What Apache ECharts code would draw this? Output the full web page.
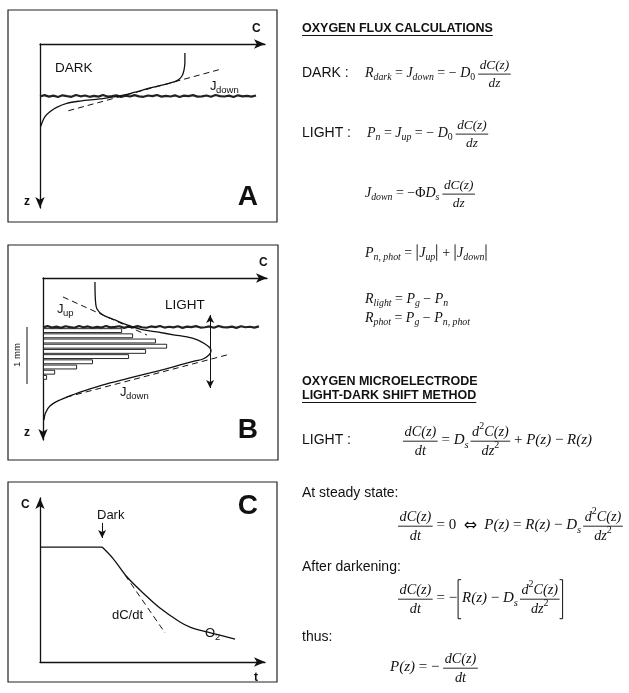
<!DOCTYPE html>
<html>
<head>
<meta charset="utf-8">
<script src="https://cdn.jsdelivr.net/npm/echarts@6/dist/echarts.min.js"></script>
<style>
  html, body { margin: 0; padding: 0; background: #fff; }
  #chart { width: 629px; height: 693px; }
</style>
</head>
<body>
<div id="chart"></div>
<script>
// ---- data (all panels use 0..100 units on both axes) ----
// panel A : dark profile, C across, z down
const darkProfile = [[64.4,5.5],[64.4,11.0],[64.0,15.9],[63.1,19.5],[61.3,22.0],[57.8,23.8],[48.9,26.8],[41.3,29.7],[34.2,32.0],[26.7,33.5],[17.8,34.8],[11.9,36.2],[7.4,38.6],[4.4,41.3],[2.2,44.3],[0.8,48.4],[0.3,50.4]];
const darkTangent = [[12.6,40.7],[80.8,15.2]];
const surfaceDepthA = 31.7;
const surfaceDepthB = 30.2;
// roughness of the sediment surface line, read by eye
const surfaceWiggle = [0.3,-0.5,0.4,-0.2,0.6,-0.4,0.1,0.5,-0.6,0.2,-0.3,0.5,-0.1,0.4,-0.6,0.3,0.0,-0.4,0.6,-0.2,0.3,-0.5,0.2,0.5,-0.3,0.1,-0.6,0.4,-0.1,0.3,-0.4,0.6,-0.2,0.1,-0.5,0.4,0.2,-0.3,0.5,-0.6,0.1,0.3,-0.2,0.6,-0.4,0.2,-0.1,0.4,-0.3];

// panel B : light profile
const lightProfile = [[23.2,2.5],[23.4,13.6],[24.1,19.1],[26.8,22.8],[32.1,25.9],[37.5,29.0],[43.3,31.5],[50.9,33.3],[58.9,35.2],[64.3,36.4],[69.2,38.3],[72.3,40.7],[74.6,43.2],[75.0,45.1],[74.1,47.5],[71.4,50.0],[67.9,51.2],[61.2,53.7],[54.5,56.2],[47.8,58.6],[38.8,61.7],[29.9,64.8],[21.0,68.5],[14.3,71.6],[7.6,75.3],[3.1,79.0],[1.1,83.3],[0.4,87.7]];
const upTangent = [[8.9,11.7],[46.4,35.2]];
const downTangent = [[82.1,47.5],[8.9,74.1]];
const photicArrow = [[74.6,22.8],[74.6,67.9]];
const layers = ['1','2','3','4','5','6','7','8','9','10'];
const photosynthesis = [35.3,40.2,50.4,55.4,46.0,38.4,22.3,15.2,5.4,1.8];

// panel C : light-dark shift, C up, t across
const steadyO2 = [[0,70.1],[27.6,70.1]];
const decayO2 = [[27.6,70.1],[32.4,63.2],[38.7,51.8],[45.8,42.1],[53.3,32.9],[62.2,24.4],[66.7,21.3],[74.2,18.3],[86.7,14.0]];
const initialSlope = [[37.8,53.0],[55.6,17.7]];
const darkArrow = [[27.6,84.8],[27.6,75.6]];

// ---- text helpers ----
const SERIF = '"Liberation Serif","DejaVu Serif",serif';
const SANS = '"Liberation Sans",Arial,sans-serif';
const INK = '#111';
const G = [];
const mc = document.createElement('canvas').getContext('2d');

function fnt(size, it, bold, fam) {
  return (it ? 'italic ' : '') + (bold ? 'bold ' : '') + size + 'px ' + fam;
}
function tw(s, size, it, bold, fam) {
  mc.font = fnt(size, it, bold, fam);
  return mc.measureText(s).width;
}
function put(x, y, s, size, it, bold, fam, align, extra) {
  G.push(Object.assign({
    type: 'text', x: x, y: y, silent: true, z: 10,
    style: { text: s, font: fnt(size, it, bold, fam), fill: INK, align: align || 'left', verticalAlign: 'middle' }
  }, extra || {}));
}
function seg(x1, y1, x2, y2, w) {
  G.push({ type: 'line', silent: true, z: 10, shape: { x1: x1, y1: y1, x2: x2, y2: y2 }, style: { stroke: INK, lineWidth: w || 1 } });
}
function poly(pts, w) {
  G.push({ type: 'polyline', silent: true, z: 10, shape: { points: pts }, style: { stroke: INK, lineWidth: w || 1, fill: null } });
}
function box(x, y, w, h) {
  G.push({ type: 'rect', silent: true, shape: { x: x, y: y, width: w, height: h }, style: { fill: 'none', stroke: '#222', lineWidth: 1.2 } });
}
function heading(x, y, s, underline) {
  put(x, y, s, 12.5, false, true, SANS);
  if (underline) seg(x, y + 6.5, x + tw(s, 12.5, false, true, SANS), y + 6.5, 1.2);
}

// small layout engine for the formulas
function math(parts, x, y, fs, draw) {
  let cx = x;
  parts.forEach(function (p) {
    const k = p[0];
    if (k === 'i' || k === 'r') {
      const it = k === 'i';
      if (draw) put(cx, y, p[1], fs, it, false, SERIF);
      cx += tw(p[1], fs, it, false, SERIF);
    } else if (k === 'sym') {
      const s = fs * 1.05;
      if (draw) put(cx, y + 1, p[1], s, false, false, '"DejaVu Sans",sans-serif');
      cx += tw(p[1], s, false, false, '"DejaVu Sans",sans-serif');
    } else if (k === 'sub' || k === 'sup') {
      const s = fs * 0.7, it = p[2] !== false;
      if (draw) put(cx, y + (k === 'sub' ? fs * 0.32 : -fs * 0.42), p[1], s, it, false, SERIF);
      cx += tw(p[1], s, it, false, SERIF);
    } else if (k === 'gap') {
      cx += p[1];
    } else if (k === 'frac') {
      const f = fs * 0.95;
      const wn = math(p[1], 0, 0, f, false), wd = math(p[2], 0, 0, f, false);
      const w = Math.max(wn, wd) + 3;
      if (draw) {
        const by = y + fs * 0.08;
        math(p[1], cx + (w - wn) / 2, by - f * 0.64, f, true);
        math(p[2], cx + (w - wd) / 2, by + f * 0.74, f, true);
        seg(cx, by, cx + w, by, 0.9);
      }
      cx += w;
    } else if (k === 'bar') {
      if (draw) seg(cx + 1.5, y - fs * 0.62, cx + 1.5, y + fs * 0.55, 0.9);
      cx += 3.5;
    } else if (k === 'lb' || k === 'rb') {
      const h = fs * 1.3, by = y + fs * 0.08;
      if (draw) {
        if (k === 'lb') poly([[cx + 4, by - h], [cx + 1, by - h], [cx + 1, by + h], [cx + 4, by + h]], 1);
        else poly([[cx, by - h], [cx + 3, by - h], [cx + 3, by + h], [cx, by + h]], 1);
      }
      cx += 5;
    }
  });
  return cx - x;
}

// ---- panel frames and labels ----
box(8, 10, 269, 212);
box(8, 245, 270, 215);
box(8, 482, 269, 200);

put(252, 29, 'C', 12, false, true, SANS);
put(55, 68, 'DARK', 13.5, false, false, SANS);
put(210, 86, 'J', 13, false, false, SANS);
put(216, 90, 'down', 9.5, false, false, SANS);
put(24, 202, 'z', 12, false, true, SANS);
put(258, 197, 'A', 28, false, true, SANS, 'right');

put(259, 263, 'C', 12, false, true, SANS);
put(57, 309, 'J', 13, false, false, SANS);
put(63, 313, 'up', 9.5, false, false, SANS);
put(165, 305, 'LIGHT', 13.5, false, false, SANS);
put(120, 392, 'J', 13, false, false, SANS);
put(126, 396, 'down', 9.5, false, false, SANS);
put(24, 433, 'z', 12, false, true, SANS);
put(258, 430, 'B', 28, false, true, SANS, 'right');
seg(27, 327, 27, 384, 1);
put(17, 355, '1 mm', 9.5, false, false, SANS, 'center', { rotation: Math.PI / 2 });

put(21, 505, 'C', 12, false, true, SANS);
put(254, 678, 't', 12, false, true, SANS);
put(258, 506, 'C', 28, false, true, SANS, 'right');
put(97, 515, 'Dark', 13, false, false, SANS);
put(112, 615, 'dC/dt', 13, false, false, SANS);
put(205, 633, 'O', 13, false, false, SANS);
put(215, 637, '2', 9.5, false, false, SANS);

// ---- right column: formulas ----
const FS = 14;
const FS2 = 15;
const dCdz = ['frac', [['i', 'dC(z)']], [['i', 'dz']]];
const dCdt = ['frac', [['i', 'dC(z)']], [['i', 'dt']]];
const d2C = ['frac', [['i', 'd'], ['sup', '2', false], ['i', 'C(z)']], [['i', 'dz'], ['sup', '2', false]]];

heading(302, 29, 'OXYGEN FLUX CALCULATIONS', true);
put(302, 73, 'DARK :', 14, false, false, SANS);
math([['i', 'R'], ['sub', 'dark'], ['r', ' = '], ['i', 'J'], ['sub', 'down'], ['r', ' = − '], ['i', 'D'], ['sub', '0', false], ['gap', 3], dCdz], 365, 73, FS, true);
put(302, 133, 'LIGHT :', 14, false, false, SANS);
math([['i', 'P'], ['sub', 'n'], ['r', ' = '], ['i', 'J'], ['sub', 'up'], ['r', ' = − '], ['i', 'D'], ['sub', '0', false], ['gap', 3], dCdz], 367, 133, FS, true);
math([['i', 'J'], ['sub', 'down'], ['r', ' = −Φ'], ['i', 'D'], ['sub', 's'], ['gap', 3], dCdz], 365, 193, FS, true);
math([['i', 'P'], ['sub', 'n, phot'], ['r', ' = '], ['bar'], ['i', 'J'], ['sub', 'up'], ['bar'], ['r', ' + '], ['bar'], ['i', 'J'], ['sub', 'down'], ['bar']], 365, 253, FS, true);
math([['i', 'R'], ['sub', 'light'], ['r', ' = '], ['i', 'P'], ['sub', 'g'], ['r', ' − '], ['i', 'P'], ['sub', 'n']], 365, 299, FS, true);
math([['i', 'R'], ['sub', 'phot'], ['r', ' = '], ['i', 'P'], ['sub', 'g'], ['r', ' − '], ['i', 'P'], ['sub', 'n, phot']], 365, 318, FS, true);

heading(302, 382, 'OXYGEN MICROELECTRODE', false);
heading(302, 396, 'LIGHT-DARK SHIFT METHOD', true);
put(302, 440, 'LIGHT :', 14, false, false, SANS);
math([dCdt, ['r', ' = '], ['i', 'D'], ['sub', 's'], ['gap', 2], d2C, ['r', ' + '], ['i', 'P(z)'], ['r', ' − '], ['i', 'R(z)']], 403, 440, FS2, true);
put(302, 493, 'At steady state:', 14, false, false, SANS);
math([dCdt, ['r', ' = 0  '], ['sym', '⇔'], ['r', '  '], ['i', 'P(z)'], ['r', ' = '], ['i', 'R(z)'], ['r', ' − '], ['i', 'D'], ['sub', 's'], ['gap', 2], d2C], 398, 525, FS2, true);
put(302, 567, 'After darkening:', 14, false, false, SANS);
math([dCdt, ['r', ' = −'], ['lb'], ['i', 'R(z)'], ['r', ' − '], ['i', 'D'], ['sub', 's'], ['gap', 2], d2C, ['rb']], 398, 598, FS2, true);
put(302, 637, 'thus:', 14, false, false, SANS);
math([['i', 'P(z)'], ['r', ' = − '], dCdt], 390, 667, FS2, true);

// ---- chart ----
function arrowAxis(grid, extra, sym) {
  return Object.assign({
    gridIndex: grid, type: 'value', min: 0, max: 100,
    axisLine: { show: true, onZero: false, symbol: sym || ['none', 'arrow'], symbolSize: [7, 11], lineStyle: { color: INK, width: 1.3 } },
    axisTick: { show: false }, axisLabel: { show: false }, splitLine: { show: false }
  }, extra || {});
}
function curve(xi, data, extra) {
  return Object.assign({
    type: 'line', xAxisIndex: xi, yAxisIndex: xi, data: data, symbol: 'none', silent: true,
    lineStyle: { color: INK, width: 1.3 }
  }, extra || {});
}
function dashed(xi, data) {
  return curve(xi, data, { lineStyle: { color: INK, width: 1, type: [6, 4] } });
}
function surface(xi, depth, span) {
  const step = span / (surfaceWiggle.length - 1);
  return curve(xi, surfaceWiggle.map(function (w, i) { return [i * step, depth + w]; }), { lineStyle: { color: '#222', width: 2.2 } });
}
function arrowLine(pts, sym) {
  return {
    silent: true, symbol: sym, symbolSize: [6, 8], label: { show: false },
    lineStyle: { color: INK, width: 1, type: 'solid' },
    data: [[{ coord: pts[0] }, { coord: pts[1] }]]
  };
}

const chart = echarts.init(document.getElementById('chart'));
chart.setOption({
  animation: false,
  textStyle: { fontFamily: SANS },
  grid: [
    { left: 40, top: 44, width: 225, height: 164 },
    { left: 43, top: 278, width: 224, height: 162 },
    { left: 43, top: 328, width: 224, height: 52 },
    { left: 40, top: 498, width: 225, height: 164 }
  ],
  xAxis: [
    arrowAxis(0, { position: 'top' }),
    arrowAxis(1, { position: 'top' }),
    { gridIndex: 2, type: 'value', min: 0, max: 100, show: false },
    arrowAxis(3)
  ],
  yAxis: [
    arrowAxis(0, { inverse: true }, ['arrow', 'none']),
    arrowAxis(1, { inverse: true }, ['arrow', 'none']),
    { gridIndex: 2, type: 'category', data: layers, inverse: true, show: false },
    arrowAxis(3)
  ],
  series: [
    {
      type: 'bar', xAxisIndex: 2, yAxisIndex: 2, data: photosynthesis, silent: true,
      barCategoryGap: '8%', itemStyle: { color: '#fff', borderColor: INK, borderWidth: 0.9 }
    },
    surface(0, surfaceDepthA, 96),
    curve(0, darkProfile, { smooth: 0.35 }),
    dashed(0, darkTangent),
    surface(1, surfaceDepthB, 96.4),
    curve(1, lightProfile, { smooth: 0.35 }),
    Object.assign(dashed(1, upTangent), { markLine: arrowLine(photicArrow, ['arrow', 'arrow']) }),
    dashed(1, downTangent),
    curve(3, steadyO2),
    curve(3, decayO2, { smooth: 0.35 }),
    Object.assign(dashed(3, initialSlope), { markLine: arrowLine(darkArrow, ['none', 'arrow']) })
  ],
  graphic: G
});
</script>
</body>
</html>
